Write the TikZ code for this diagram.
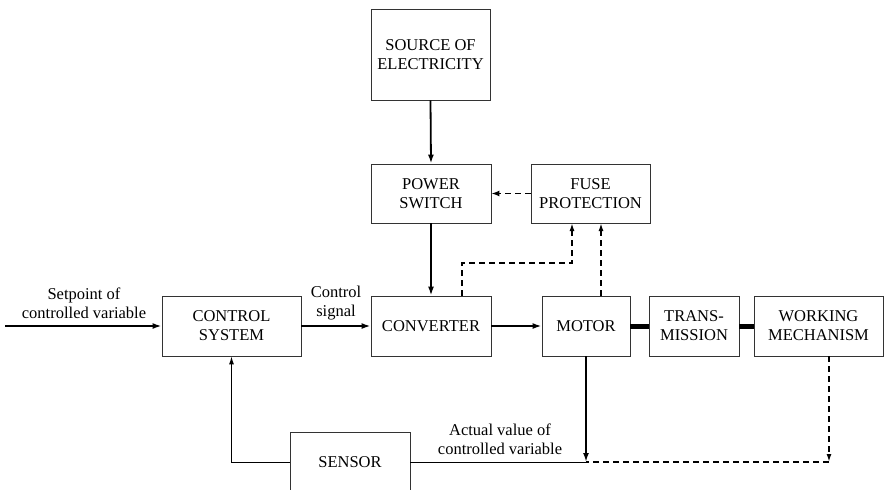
\documentclass[tikz,border=0pt]{standalone}
\usepackage{fontspec}
\setmainfont{Liberation Serif}
\newfontfamily\diagfont{Liberation Serif}
\usetikzlibrary{arrows.meta}

\newcommand{\blockHeight}{60}
\newcommand{\shaftWidth}{5pt}

\begin{document}
\begin{tikzpicture}[x=1pt,y=-1pt,font=\diagfont\fontsize{16.5}{19}\selectfont]
\tikzstyle{block}=[rectangle,draw=black!80,line width=0.8pt,align=center,inner sep=0pt,minimum height=\blockHeight]
\tikzstyle{signal}=[line width=1.8pt,-{Latex[length=9pt,width=6pt]}]
\tikzstyle{feedback}=[line width=1pt]
\tikzstyle{protect}=[line width=1.8pt,dash pattern=on 6pt off 4pt]
\tikzstyle{shaft}=[line width=\shaftWidth]
\useasboundingbox (0,0) rectangle (884,490);
\clip (0,0) rectangle (884,490);
\node[block,minimum width=119,minimum height=91] (src) at (430.5,54.5) {SOURCE OF\\ELECTRICITY};
\node[block,minimum width=120,minimum height=59] (psw) at (431,193.5) {POWER\\SWITCH};
\node[block,minimum width=119,minimum height=59] (fuse) at (590.5,193.5) {FUSE\\PROTECTION};
\node[block,minimum width=139] (ctrl) at (231.5,326) {CONTROL\\SYSTEM};
\node[block,minimum width=120] (conv) at (431,326) {CONVERTER};
\node[block,minimum width=88] (motor) at (586,326) {MOTOR};
\node[block,minimum width=90] (trans) at (694,326) {TRANS-\\MISSION};
\node[block,minimum width=129] (work) at (818.5,326) {WORKING\\MECHANISM};
\node[block,minimum width=120] (sensor) at (350,462) {SENSOR};
\coordinate (setpoint) at (5,326);
\coordinate (j-act) at (586,462);
\coordinate (j-work) at (829,462);
% signal path
\draw[signal] (setpoint) -- (ctrl.west);
\draw[signal] (ctrl.east) -- (conv.west);
\draw[signal] (conv.east) -- (motor.west);
\draw[signal] (src.south) -- (psw.north);
\draw[signal] (psw.south) -- (conv.north);
\draw[shaft] (motor.east) -- (trans.west);
\draw[shaft] (trans.east) -- (work.west);
% feedback
\draw[feedback,-{Latex[length=8pt,width=5pt]}] (sensor.west) -| (ctrl.south);
\draw[feedback] (sensor.east) -- (j-act);
\draw[signal] (motor.south) -- (j-act);
\draw[protect,-{Latex[length=8pt,width=5pt]}] (work.south -| j-work) -- (j-work);
\draw[protect] (j-work) -- (j-act);
% protection
\draw[protect,-{Latex[length=8pt,width=6pt]}] (fuse.west) -- (psw.east);
\draw[protect,-{Latex[length=8pt,width=5pt]}] (462,296) |- (572,263) -- (572,223);
\draw[protect,-{Latex[length=8pt,width=5pt]}] (motor.north -| 601,0) -- (601,223);
% labels
\node[align=center,inner sep=0pt] (lbl-set) at (84,303) {Setpoint of\\controlled variable};
\node[align=center,inner sep=0pt] (lbl-ctl) at (336,303) {Control\\signal};
\node[align=center,inner sep=0pt] (lbl-act) at (500,439) {Actual value of\\controlled variable};
\end{tikzpicture}
\end{document}
